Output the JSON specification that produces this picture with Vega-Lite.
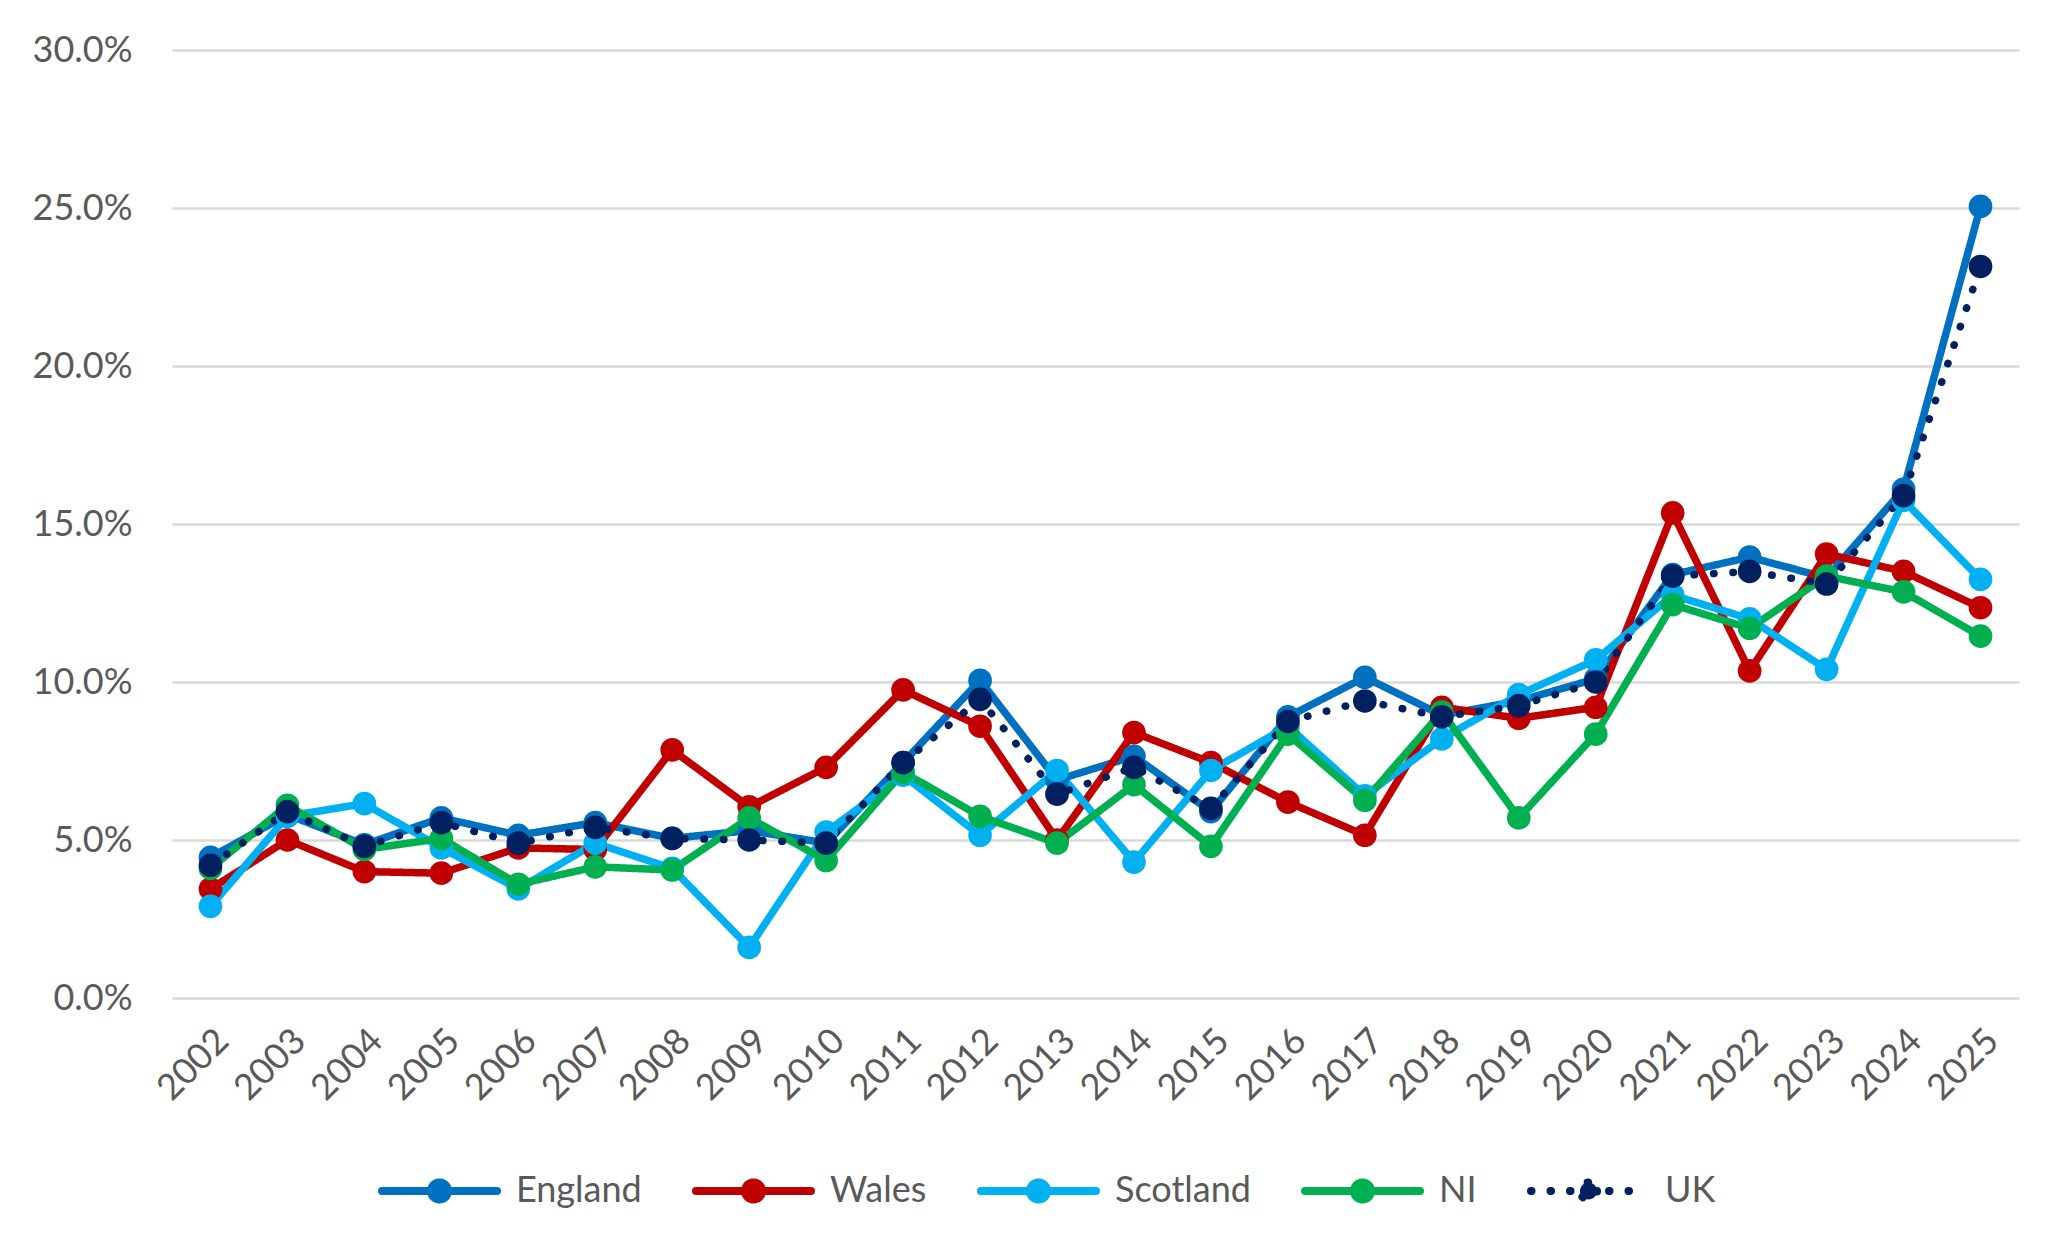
{
  "$schema": "https://vega.github.io/schema/vega-lite/v6.json",
  "description": "Annual percentage by UK nation, 2002-2025, with UK total as dotted line.",
  "width": 1847,
  "height": 948,
  "autosize": "none",
  "padding": {"left": 172, "top": 50, "right": 53, "bottom": 257},
  "background": "white",
  "data": {
    "values": [
      {"year": 2002, "region": "England", "value": 0.0445},
      {"year": 2003, "region": "England", "value": 0.058},
      {"year": 2004, "region": "England", "value": 0.0485},
      {"year": 2005, "region": "England", "value": 0.057},
      {"year": 2006, "region": "England", "value": 0.0515},
      {"year": 2007, "region": "England", "value": 0.0555},
      {"year": 2008, "region": "England", "value": 0.0505},
      {"year": 2009, "region": "England", "value": 0.053},
      {"year": 2010, "region": "England", "value": 0.049},
      {"year": 2011, "region": "England", "value": 0.0745},
      {"year": 2012, "region": "England", "value": 0.1005},
      {"year": 2013, "region": "England", "value": 0.069},
      {"year": 2014, "region": "England", "value": 0.0765},
      {"year": 2015, "region": "England", "value": 0.059},
      {"year": 2016, "region": "England", "value": 0.089},
      {"year": 2017, "region": "England", "value": 0.1015},
      {"year": 2018, "region": "England", "value": 0.0895},
      {"year": 2019, "region": "England", "value": 0.094},
      {"year": 2020, "region": "England", "value": 0.101},
      {"year": 2021, "region": "England", "value": 0.134},
      {"year": 2022, "region": "England", "value": 0.1395},
      {"year": 2023, "region": "England", "value": 0.133},
      {"year": 2024, "region": "England", "value": 0.161},
      {"year": 2025, "region": "England", "value": 0.2505},
      {"year": 2002, "region": "Wales", "value": 0.0345},
      {"year": 2003, "region": "Wales", "value": 0.05},
      {"year": 2004, "region": "Wales", "value": 0.04},
      {"year": 2005, "region": "Wales", "value": 0.0395},
      {"year": 2006, "region": "Wales", "value": 0.0475},
      {"year": 2007, "region": "Wales", "value": 0.047},
      {"year": 2008, "region": "Wales", "value": 0.0785},
      {"year": 2009, "region": "Wales", "value": 0.0605},
      {"year": 2010, "region": "Wales", "value": 0.073},
      {"year": 2011, "region": "Wales", "value": 0.0975},
      {"year": 2012, "region": "Wales", "value": 0.086},
      {"year": 2013, "region": "Wales", "value": 0.05},
      {"year": 2014, "region": "Wales", "value": 0.084},
      {"year": 2015, "region": "Wales", "value": 0.0745},
      {"year": 2016, "region": "Wales", "value": 0.062},
      {"year": 2017, "region": "Wales", "value": 0.0515},
      {"year": 2018, "region": "Wales", "value": 0.092},
      {"year": 2019, "region": "Wales", "value": 0.0885},
      {"year": 2020, "region": "Wales", "value": 0.092},
      {"year": 2021, "region": "Wales", "value": 0.1535},
      {"year": 2022, "region": "Wales", "value": 0.1035},
      {"year": 2023, "region": "Wales", "value": 0.1405},
      {"year": 2024, "region": "Wales", "value": 0.135},
      {"year": 2025, "region": "Wales", "value": 0.1235},
      {"year": 2002, "region": "Scotland", "value": 0.029},
      {"year": 2003, "region": "Scotland", "value": 0.0575},
      {"year": 2004, "region": "Scotland", "value": 0.0615},
      {"year": 2005, "region": "Scotland", "value": 0.0475},
      {"year": 2006, "region": "Scotland", "value": 0.0345},
      {"year": 2007, "region": "Scotland", "value": 0.049},
      {"year": 2008, "region": "Scotland", "value": 0.041},
      {"year": 2009, "region": "Scotland", "value": 0.016},
      {"year": 2010, "region": "Scotland", "value": 0.0525},
      {"year": 2011, "region": "Scotland", "value": 0.0705},
      {"year": 2012, "region": "Scotland", "value": 0.0515},
      {"year": 2013, "region": "Scotland", "value": 0.072},
      {"year": 2014, "region": "Scotland", "value": 0.043},
      {"year": 2015, "region": "Scotland", "value": 0.072},
      {"year": 2016, "region": "Scotland", "value": 0.086},
      {"year": 2017, "region": "Scotland", "value": 0.064},
      {"year": 2018, "region": "Scotland", "value": 0.082},
      {"year": 2019, "region": "Scotland", "value": 0.096},
      {"year": 2020, "region": "Scotland", "value": 0.107},
      {"year": 2021, "region": "Scotland", "value": 0.1275},
      {"year": 2022, "region": "Scotland", "value": 0.12},
      {"year": 2023, "region": "Scotland", "value": 0.104},
      {"year": 2024, "region": "Scotland", "value": 0.1575},
      {"year": 2025, "region": "Scotland", "value": 0.1325},
      {"year": 2002, "region": "NI", "value": 0.041},
      {"year": 2003, "region": "NI", "value": 0.061},
      {"year": 2004, "region": "NI", "value": 0.047},
      {"year": 2005, "region": "NI", "value": 0.0505},
      {"year": 2006, "region": "NI", "value": 0.036},
      {"year": 2007, "region": "NI", "value": 0.0415},
      {"year": 2008, "region": "NI", "value": 0.0405},
      {"year": 2009, "region": "NI", "value": 0.057},
      {"year": 2010, "region": "NI", "value": 0.0435},
      {"year": 2011, "region": "NI", "value": 0.0715},
      {"year": 2012, "region": "NI", "value": 0.0575},
      {"year": 2013, "region": "NI", "value": 0.049},
      {"year": 2014, "region": "NI", "value": 0.0675},
      {"year": 2015, "region": "NI", "value": 0.048},
      {"year": 2016, "region": "NI", "value": 0.0835},
      {"year": 2017, "region": "NI", "value": 0.0625},
      {"year": 2018, "region": "NI", "value": 0.0905},
      {"year": 2019, "region": "NI", "value": 0.057},
      {"year": 2020, "region": "NI", "value": 0.0835},
      {"year": 2021, "region": "NI", "value": 0.1245},
      {"year": 2022, "region": "NI", "value": 0.117},
      {"year": 2023, "region": "NI", "value": 0.1335},
      {"year": 2024, "region": "NI", "value": 0.1285},
      {"year": 2025, "region": "NI", "value": 0.1145},
      {"year": 2002, "region": "UK", "value": 0.042},
      {"year": 2003, "region": "UK", "value": 0.059},
      {"year": 2004, "region": "UK", "value": 0.048},
      {"year": 2005, "region": "UK", "value": 0.0555},
      {"year": 2006, "region": "UK", "value": 0.049},
      {"year": 2007, "region": "UK", "value": 0.054},
      {"year": 2008, "region": "UK", "value": 0.0505},
      {"year": 2009, "region": "UK", "value": 0.05},
      {"year": 2010, "region": "UK", "value": 0.049},
      {"year": 2011, "region": "UK", "value": 0.0745},
      {"year": 2012, "region": "UK", "value": 0.0945},
      {"year": 2013, "region": "UK", "value": 0.0645},
      {"year": 2014, "region": "UK", "value": 0.073},
      {"year": 2015, "region": "UK", "value": 0.06},
      {"year": 2016, "region": "UK", "value": 0.0875},
      {"year": 2017, "region": "UK", "value": 0.094},
      {"year": 2018, "region": "UK", "value": 0.089},
      {"year": 2019, "region": "UK", "value": 0.0925},
      {"year": 2020, "region": "UK", "value": 0.1},
      {"year": 2021, "region": "UK", "value": 0.1335},
      {"year": 2022, "region": "UK", "value": 0.135},
      {"year": 2023, "region": "UK", "value": 0.131},
      {"year": 2024, "region": "UK", "value": 0.159},
      {"year": 2025, "region": "UK", "value": 0.2315}
    ]
  },
  "encoding": {
    "x": {
      "field": "year",
      "type": "ordinal",
      "scale": {"type": "point", "padding": 0.5},
      "axis": {
        "title": null,
        "labelAngle": -45,
        "labelPadding": 25,
        "domain": false,
        "ticks": false,
        "grid": false
      }
    },
    "y": {
      "field": "value",
      "type": "quantitative",
      "scale": {"domain": [0, 0.3], "nice": false},
      "axis": {
        "title": null,
        "format": ".1%",
        "values": [0, 0.05, 0.1, 0.15, 0.2, 0.25, 0.3],
        "labelPadding": 40,
        "domain": false,
        "ticks": false,
        "gridColor": "#D9D9D9",
        "gridWidth": 2.5
      }
    },
    "color": {
      "field": "region",
      "type": "nominal",
      "sort": ["England", "Wales", "Scotland", "NI", "UK"],
      "scale": {
        "domain": ["England", "Wales", "Scotland", "NI", "UK"],
        "range": ["#0070C0", "#C00000", "#00B0F0", "#00B050", "#002060"]
      },
      "legend": {
        "title": null,
        "orient": "none",
        "direction": "horizontal",
        "legendX": 206,
        "legendY": 1079,
        "padding": 0,
        "symbolType": "M-1,0H1M0.148,0A0.148,0.148,0,1,1,-0.148,0A0.148,0.148,0,1,1,0.148,0Z",
        "symbolSize": 13225,
        "symbolStrokeWidth": 8,
        "labelOffset": 15,
        "columnPadding": 38,
        "encode": {
          "symbols": {
            "update": {
              "fill": {"scale": "color", "field": "value"},
              "stroke": {"scale": "color", "field": "value"},
              "strokeCap": {"value": "round"},
              "opacity": {"value": 1}
            }
          }
        }
      }
    }
  },
  "layer": [
    {
      "mark": {"type": "line", "strokeWidth": 7.5, "strokeCap": "round", "strokeJoin": "round"},
      "encoding": {
        "strokeDash": {
          "field": "region",
          "type": "nominal",
          "sort": ["England", "Wales", "Scotland", "NI", "UK"],
          "scale": {
            "domain": ["England", "Wales", "Scotland", "NI", "UK"],
            "range": [[1, 0], [1, 0], [1, 0], [1, 0], [0.5, 19]]
          },
          "legend": null
        }
      }
    },
    {
      "mark": {"type": "point", "shape": "circle", "filled": true, "opacity": 1, "size": 560}
    }
  ],
  "config": {
    "font": "Lato",
    "view": {"stroke": null},
    "axis": {"labelFont": "Lato", "labelFontSize": 36, "labelColor": "#595959"},
    "legend": {"labelFont": "Lato", "labelFontSize": 36, "labelColor": "#595959"}
  }
}
